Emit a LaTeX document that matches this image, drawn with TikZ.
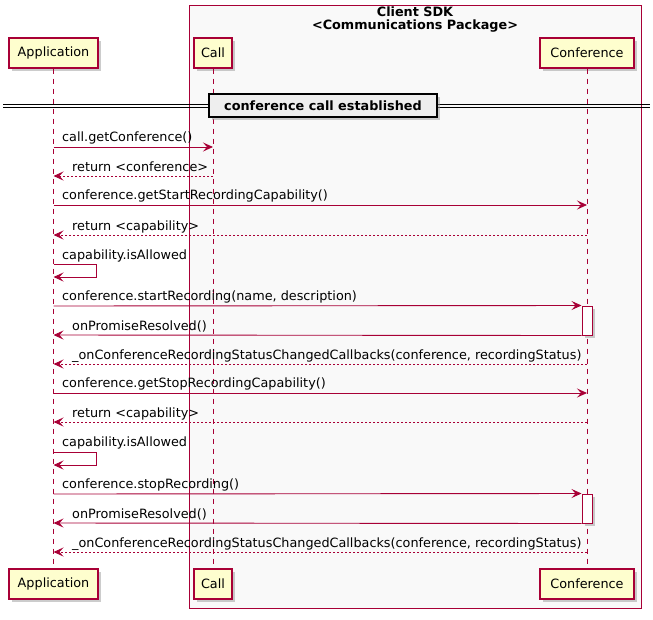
\documentclass[tikz,border=0pt]{standalone}
\usepackage{fontspec}
\setmainfont{DejaVu Sans}
\usetikzlibrary{arrows.meta,shadows}
\definecolor{umlred}{RGB}{168,0,54}
\definecolor{partfill}{RGB}{254,254,206}
\definecolor{boxbg}{RGB}{249,249,249}
\definecolor{divfill}{RGB}{238,238,238}

\begin{document}
\begin{tikzpicture}[x=1pt,y=-1pt,
  font=\fontsize{12.8}{15}\selectfont,
  softshadow/.style={drop shadow={shadow xshift=3pt,shadow yshift=-3pt,fill=black!40,opacity=0.5}},
  part/.style={draw=umlred, line width=1.2pt, fill=partfill, minimum height=30pt, inner sep=0pt, softshadow},
  actbox/.style={draw=umlred, line width=1pt, fill=white, minimum width=10pt, minimum height=29pt, inner sep=0pt, softshadow},
  life/.style={draw=umlred, line width=1pt, dash pattern=on 5pt off 5pt},
  msg/.style={draw=umlred, line width=0.9pt, -{Stealth[length=10pt,width=9pt,inset=4pt]}},
  ret/.style={msg, dash pattern=on 2pt off 2pt},
  lbl/.style={anchor=base west, inner sep=0pt},
  titletext/.style={anchor=base, inner sep=0pt, font=\bfseries\fontsize{12.8}{15}\selectfont},
]
\useasboundingbox (0,0) rectangle (653,619);

% package frame
\draw[umlred, fill=boxbg, line width=0.9pt] (189,5) rectangle (641,608);
\node[titletext] (pkgname) at (415,16) {Client SDK};
\node[titletext] (pkgstereo) at (415,29) {<Communications Package>};

% participants, top and bottom
\node[part, minimum width=89pt] (appT)  at (53.5,53) {Application};
\node[part, minimum width=38pt] (callT) at (213,53)  {Call};
\node[part, minimum width=94pt] (confT) at (587,53)  {Conference};
\node[part, minimum width=89pt] (appB)  at (53.5,584) {Application};
\node[part, minimum width=38pt] (callB) at (213,584)  {Call};
\node[part, minimum width=94pt] (confB) at (587,584)  {Conference};

% lifelines
\draw[life] (appT.south) -- (appB.north);
\draw[life] (callT.south) -- (callB.north);
\draw[life] (confT.south) -- (confB.north);

% separator
\draw[line width=1pt] (3,104) -- (650,104);
\draw[line width=1pt] (3,107.5) -- (650,107.5);
\node[draw=black, line width=1.6pt, fill=divfill, minimum width=228pt, minimum height=23pt, inner sep=0pt,
      font=\bfseries\fontsize{12.8}{15}\selectfont, softshadow] (sep) at (323,105.5) {conference call established};

% row positions
\foreach \n/\y in {r1/147, r2/176, r3/205, r4/235, r5/264, r5b/277, r6/306, r7/335, r8/364,
                   r9/393, r10/422, r11/452, r11b/465, r12/494, r13/523, r14/552}
  \coordinate (\n) at (0,\y);
\coordinate (loopx) at (96,0);

% activations on Conference
\node[actbox] (act1) at (587,320.5) {};
\node[actbox] (act2) at (587,508.5) {};

% messages
\draw[msg] (appT |- r1) -- (callT |- r1);
\node[lbl] (t1) at (62,141) {call.getConference()};

\draw[ret] (callT |- r2) -- (appT |- r2);
\node[lbl] (t2) at (72,171) {return <conference>};

\draw[msg] (appT |- r3) -- (confT |- r3);
\node[lbl] (t3) at (62,199) {conference.getStartRecordingCapability()};

\draw[ret] (confT |- r4) -- (appT |- r4);
\node[lbl] (t4) at (72,230) {return <capability>};

\draw[msg] (appT |- r5) -- (loopx |- r5) -- (loopx |- r5b) -- (appT |- r5b);
\node[lbl] (t5) at (62,259) {capability.isAllowed};

\draw[msg] (appT |- r6) -- (act1.north west);
\node[lbl] (t6) at (62,300.5) {conference.startRecording(name, description)};

\draw[msg] (act1.south west) -- (appT |- r7);
\node[lbl] (t7) at (72,330.5) {onPromiseResolved()};

\draw[ret] (confT |- r8) -- (appT |- r8);
\node[lbl] (t8) at (72,359) {\_onConferenceRecordingStatusChangedCallbacks(conference, recordingStatus)};

\draw[msg] (appT |- r9) -- (confT |- r9);
\node[lbl] (t9) at (62,387) {conference.getStopRecordingCapability()};

\draw[ret] (confT |- r10) -- (appT |- r10);
\node[lbl] (t10) at (72,417) {return <capability>};

\draw[msg] (appT |- r11) -- (loopx |- r11) -- (loopx |- r11b) -- (appT |- r11b);
\node[lbl] (t11) at (62,446) {capability.isAllowed};

\draw[msg] (appT |- r12) -- (act2.north west);
\node[lbl] (t12) at (62,488.5) {conference.stopRecording()};

\draw[msg] (act2.south west) -- (appT |- r13);
\node[lbl] (t13) at (72,518.5) {onPromiseResolved()};

\draw[ret] (confT |- r14) -- (appT |- r14);
\node[lbl] (t14) at (72,547) {\_onConferenceRecordingStatusChangedCallbacks(conference, recordingStatus)};
\end{tikzpicture}
\end{document}
